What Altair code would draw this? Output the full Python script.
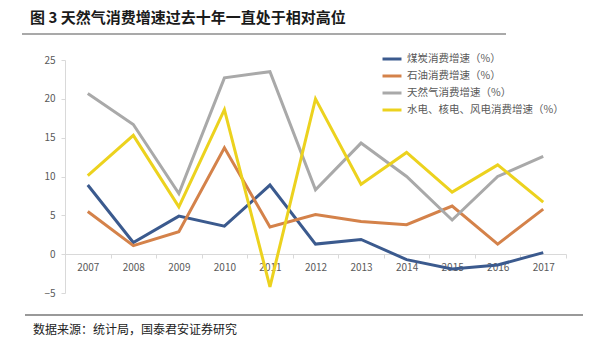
import altair as alt
import pandas as pd

years = ["2007", "2008", "2009", "2010", "2011", "2012", "2013", "2014", "2015", "2016", "2017"]
coal = [8.9, 1.5, 4.9, 3.6, 8.9, 1.3, 1.9, -0.7, -1.9, -1.4, 0.2]
oil = [5.5, 1.1, 2.9, 13.7, 3.5, 5.1, 4.2, 3.8, 6.2, 1.3, 5.8]
gas = [20.7, 16.7, 7.8, 22.7, 23.5, 8.3, 14.3, 10.0, 4.4, 10.0, 12.6]
clean = [10.1, 15.3, 6.1, 18.6, -4.2, 20.0, 9.0, 13.1, 8.0, 11.5, 6.7]

series_names = ["煤炭消费增速（%）", "石油消费增速（%）", "天然气消费增速（%）", "水电、核电、风电消费增速（%）"]
series_values = [coal, oil, gas, clean]
series_colors = ["#3b5a8e", "#d4824a", "#a9a9a9", "#ecd21e"]

rows = []
for name, vals in zip(series_names, series_values):
    for y, v in zip(years, vals):
        rows.append({"year": y, "value": v, "series": name})
df = pd.DataFrame(rows)

FONT = "Noto Sans CJK SC"

lines = alt.Chart(df).mark_line(strokeWidth=3, clip=False).encode(
    x=alt.X("year:O", scale=alt.Scale(type="band", paddingInner=0, paddingOuter=0),
            axis=alt.Axis(title=None, labelAngle=0, offset=-39, tickBand="extent",
                          domainColor="#d9d9d9", tickColor="#d9d9d9", tickSize=4,
                          labelFont=FONT, labelFontSize=10, labelColor="#595959",
                          labelPadding=4, grid=False)),
    y=alt.Y("value:Q", scale=alt.Scale(domain=[-5, 25], nice=False),
            axis=alt.Axis(title=None, values=[-5, 0, 5, 10, 15, 20, 25], grid=False,
                          domainColor="#d9d9d9", tickColor="#d9d9d9", tickSize=4,
                          labelFont=FONT, labelFontSize=10, labelColor="#595959",
                          labelPadding=6)),
    color=alt.Color("series:N", sort=series_names,
                    scale=alt.Scale(domain=series_names, range=series_colors),
                    legend=alt.Legend(title=None, orient="none", legendX=316, legendY=-12,
                                      symbolType="stroke", symbolStrokeWidth=3, symbolSize=360,
                                      labelFont=FONT, labelFontSize=10.5, labelColor="#595959",
                                      rowPadding=0, padding=0, labelLimit=300, labelOffset=4)),
    order=alt.Order("year:O"),
)

one = alt.Data(values=[{}])

title = alt.Chart(one).mark_text(
    text="图 3  天然气消费增速过去十年一直处于相对高位", font=FONT, fontSize=15, fontWeight="bold",
    align="left", baseline="middle", color="#1a1a1a"
).encode(x=alt.value(-35), y=alt.value(-42))

top_rule = alt.Chart(one).mark_rule(color="#555555", strokeWidth=1.2).encode(
    x=alt.value(-43), x2=alt.value(441), y=alt.value(-26))

bottom_rule = alt.Chart(one).mark_rule(color="#777777", strokeWidth=1.5).encode(
    x=alt.value(-40), x2=alt.value(518), y=alt.value(255))

footer = alt.Chart(one).mark_text(
    text="数据来源：统计局，国泰君安证券研究", font=FONT, fontSize=12,
    align="left", baseline="middle", color="#222222"
).encode(x=alt.value(-32), y=alt.value(270))

chart = alt.layer(lines, title, top_rule, bottom_rule, footer).properties(
    width=501, height=233,
    autosize=alt.AutoSizeParams(type="none"),
    padding={"left": 65, "top": 60, "right": 34, "bottom": 55},
    background="white",
).configure_view(stroke=None)

chart.save("out.html", embed_options={"renderer": "svg", "actions": False})
